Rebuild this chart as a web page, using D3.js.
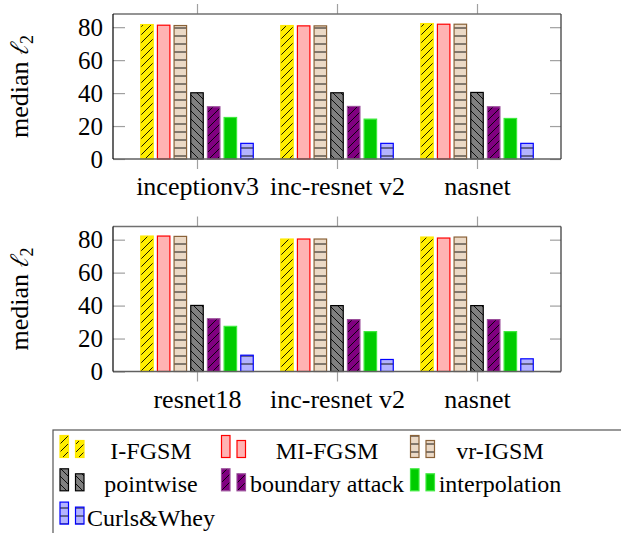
<!DOCTYPE html>
<html>
<head>
<meta charset="utf-8">
<script src="https://cdn.jsdelivr.net/npm/d3@7"></script>
<style>
  body { margin: 0; background: #fff; }
</style>
</head>
<body>
<svg id="chart" width="621" height="533"></svg>
<script>
// Categories for the two panels
var groupsTop = ['inceptionv3', 'inc-resnet v2', 'nasnet']
var groupsBottom = ['resnet18', 'inc-resnet v2', 'nasnet']

// Series names (legend order)
var methods = ['I-FGSM', 'MI-FGSM', 'vr-IGSM', 'pointwise', 'boundary attack', 'interpolation', 'Curls&Whey']

// Median l2 values, top panel
var ifgsmTop = [81.6, 81.0, 82.2]
var mifgsmTop = [81.2, 80.8, 81.8]
var vrigsmTop = [81.0, 80.8, 81.8]
var pointwiseTop = [40.2, 40.2, 40.4]
var boundaryTop = [31.7, 31.9, 31.7]
var interpTop = [25.2, 24.2, 24.6]
var curlsTop = [9.5, 9.5, 9.5]

// Median l2 values, bottom panel
var ifgsmBottom = [82.2, 80.4, 81.6]
var mifgsmBottom = [82.2, 80.4, 81.0]
var vrigsmBottom = [82.0, 80.4, 81.6]
var pointwiseBottom = [40.1, 40.0, 40.0]
var boundaryBottom = [32.0, 31.5, 31.5]
var interpBottom = [27.4, 24.2, 24.2]
var curlsBottom = [9.9, 7.3, 7.7]

var yTicks = [0, 20, 40, 60, 80]

// Bar styles, one per method
var styles = [
  { fill: '#ffee00', stroke: '#ffe800', pattern: 'ne' },
  { fill: '#ffb3b3', stroke: '#ff0000', pattern: null },
  { fill: '#ebd9c6', stroke: '#8a6238', pattern: 'hl' },
  { fill: '#808080', stroke: '#000000', pattern: 'nw' },
  { fill: '#800080', stroke: '#9a4e9a', pattern: 'ne' },
  { fill: '#00cc00', stroke: '#3fea3f', pattern: null },
  { fill: '#b3b3ff', stroke: '#0000ff', pattern: 'hl' }
]

var panels = [
  { groups: groupsTop, top: 14, series: [ifgsmTop, mifgsmTop, vrigsmTop, pointwiseTop, boundaryTop, interpTop, curlsTop] },
  { groups: groupsBottom, top: 226.5, series: [ifgsmBottom, mifgsmBottom, vrigsmBottom, pointwiseBottom, boundaryBottom, interpBottom, curlsBottom] }
]

var dims = { left: 113, right: 561, height: 145, barStep: 16.67, barWidth: 12.5 }
var fontName = "'Liberation Serif'"

var svg = d3.select('#chart')

// set font on a text node the same way everywhere
function serifText(sel, size) {
  return sel.style('font-family', fontName).style('font-size', size + 'px')
}

// hatch patterns
var defs = svg.append('defs')
function addPattern(id, d) {
  defs.append('pattern')
    .attr('id', id)
    .attr('patternUnits', 'userSpaceOnUse')
    .attr('width', 8)
    .attr('height', 8)
    .append('path')
    .attr('d', d)
    .attr('stroke', '#000')
    .attr('stroke-width', 0.9)
    .attr('fill', 'none')
}
addPattern('ne', 'M0,8 L8,0 M-2,2 L2,-2 M6,10 L10,6')
addPattern('nw', 'M0,0 L8,8 M-2,6 L2,10 M6,-2 L10,2')
addPattern('hl', 'M0,4 H8')

function drawBar(g, x, y, w, h, st) {
  g.append('rect').attr('x', x).attr('y', y).attr('width', w).attr('height', h)
    .attr('fill', st.fill)
  if (st.pattern) {
    g.append('rect').attr('x', x).attr('y', y).attr('width', w).attr('height', h)
      .attr('fill', 'url(#' + st.pattern + ')')
  }
  g.append('rect').attr('x', x).attr('y', y).attr('width', w).attr('height', h)
    .attr('fill', 'none').attr('stroke', st.stroke).attr('stroke-width', 1.2)
}

panels.forEach(function(p) {
  var bottom = p.top + dims.height

  var xScale = d3.scalePoint()
    .domain(p.groups.map(function(d, i) { return i }))
    .range([dims.left, dims.right])
    .padding(0.6)

  var yScale = d3.scaleLinear()
    .domain([0, 88])
    .range([bottom, p.top])

  var g = svg.append('g')

  // bars
  p.series.forEach(function(vals, si) {
    vals.forEach(function(v, gi) {
      var cx = xScale(gi) + (si - 3) * dims.barStep
      drawBar(g, cx - dims.barWidth / 2, yScale(v), dims.barWidth, bottom - yScale(v), styles[si])
    })
  })

  // left axis with inner ticks
  var yAxis = d3.axisLeft(yScale).tickValues(yTicks).tickSizeInner(-12).tickSizeOuter(0).tickPadding(10)
  var ya = g.append('g').attr('transform', 'translate(' + dims.left + ',0)').call(yAxis)
  ya.attr('font-family', null).attr('font-size', null)
  ya.select('.domain').remove()
  ya.selectAll('line').attr('stroke', '#a0a0a0').attr('stroke-width', 1.2)
  serifText(ya.selectAll('text'), 25).attr('fill', '#000')

  // right axis, ticks only
  var yAxisR = d3.axisRight(yScale).tickValues(yTicks).tickSizeInner(-11).tickSizeOuter(0).tickFormat('')
  var yr = g.append('g').attr('transform', 'translate(' + dims.right + ',0)').call(yAxisR)
  yr.select('.domain').remove()
  yr.selectAll('line').attr('stroke', '#a0a0a0').attr('stroke-width', 1.2)

  // bottom axis with labels
  var xAxis = d3.axisBottom(xScale).tickSize(10).tickSizeOuter(0).tickPadding(8)
    .tickFormat(function(d) { return p.groups[d] })
  var xa = g.append('g').attr('transform', 'translate(0,' + bottom + ')').call(xAxis)
  xa.attr('font-family', null).attr('font-size', null)
  xa.select('.domain').remove()
  xa.selectAll('line').attr('stroke', '#a0a0a0').attr('stroke-width', 1.2)
  serifText(xa.selectAll('text'), 26).attr('fill', '#000')

  // top axis ticks
  var xAxisT = d3.axisTop(xScale).tickSize(10).tickSizeOuter(0).tickFormat('')
  var xt = g.append('g').attr('transform', 'translate(0,' + p.top + ')').call(xAxisT)
  xt.select('.domain').remove()
  xt.selectAll('line').attr('stroke', '#a0a0a0').attr('stroke-width', 1.2)

  // frame
  g.append('line').attr('x1', dims.left).attr('x2', dims.right).attr('y1', p.top).attr('y2', p.top)
    .attr('stroke', '#707070').attr('stroke-width', 1.3)
  g.append('line').attr('x1', dims.left).attr('x2', dims.right).attr('y1', bottom).attr('y2', bottom)
    .attr('stroke', '#606060').attr('stroke-width', 1.5)
  g.append('line').attr('x1', dims.left).attr('x2', dims.left).attr('y1', p.top).attr('y2', bottom)
    .attr('stroke', '#000').attr('stroke-width', 1.2)
  g.append('line').attr('x1', dims.right).attr('x2', dims.right).attr('y1', p.top).attr('y2', bottom)
    .attr('stroke', '#404040').attr('stroke-width', 1.3)

  // y label
  var lab = serifText(g.append('text'), 26)
    .attr('transform', 'translate(28,' + (p.top + dims.height / 2) + ') rotate(-90)')
    .attr('text-anchor', 'middle')
  lab.append('tspan').text('median ')
  lab.append('tspan').style('font-family', "'FreeSerif'").style('font-style', 'italic').text('\u2113')
  lab.append('tspan').style('font-size', '18px').attr('dy', 5).text('2')
})

// legend
var legend = svg.append('g')
legend.append('rect')
  .attr('x', 53).attr('y', 430).attr('width', 600).attr('height', 130)
  .attr('fill', '#fff').attr('stroke', '#555').attr('stroke-width', 1.2)

var colSwatchX = [60, 221.5, 410.5]
var colTextX = [151, 327, 500]
methods.forEach(function(name, i) {
  var col = i % 3
  var row = Math.floor(i / 3)
  var base = 457.5 + row * 33.3
  var sx = colSwatchX[col]
  drawBar(legend, sx, base - 22, 8.5, 22, styles[i])
  drawBar(legend, sx + 15.5, base - 17, 8.5, 17, styles[i])
  serifText(legend.append('text'), 24)
    .attr('x', colTextX[col])
    .attr('y', base + 1.5)
    .attr('text-anchor', 'middle')
    .text(name)
})
</script>
</body>
</html>
